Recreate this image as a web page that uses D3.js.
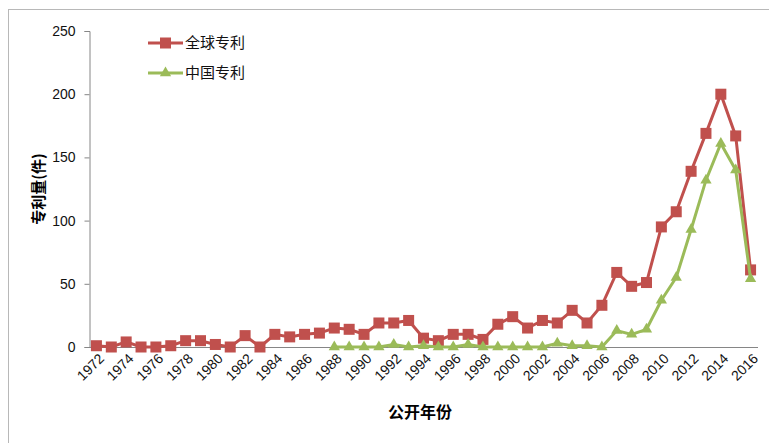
<!DOCTYPE html>
<html>
<head>
<meta charset="utf-8">
<script src="https://cdn.jsdelivr.net/npm/d3@7"></script>
<style>
  body { margin: 0; background: #fff; }
  svg { display: block; }
</style>
</head>
<body>
<svg id="chart" width="769" height="443"></svg>
<script>
// data
const years = d3.range(1972, 2017).map(String);
const globalPatents = [1, 0, 4, 0, 0, 1, 5, 5, 2, 0, 9, 0, 10, 8, 10, 11, 15, 14, 10, 19,
  19, 21, 7, 5, 10, 10, 6, 18, 24, 15, 21, 19, 29, 19, 33, 59, 48, 51, 95, 107,
  139, 169, 200, 167, 61];
const chinaYears = d3.range(1988, 2017).map(String);
const chinaPatents = [0, 0, 0, 0, 2, 0, 1, 0, 0, 2, 0, 0, 0, 0, 0, 3, 1, 1, 0, 13,
  10, 14, 37, 55, 93, 132, 161, 140, 54];
const yTicks = [0, 50, 100, 150, 200, 250];
const xLabels = years.filter((d, i) => i % 2 === 0);

const red = "#C0504D";
const green = "#9BBB59";
const axisGray = "#868686";
const numFont = "'Liberation Sans', Arial, sans-serif";
const cjkFont = "'Noto Sans CJK SC', sans-serif";

const svg = d3.select("#chart");

// outer chart border
svg.append("rect")
  .attr("x", 8.5).attr("y", 9.5)
  .attr("width", 800).attr("height", 500)
  .attr("fill", "none")
  .attr("stroke", "#b8b8b8");

const x = d3.scaleBand().domain(years).range([89, 758]);
const y = d3.scaleLinear().domain([0, 250]).range([347, 31]);
const cx = d => x(d) + x.bandwidth() / 2;

// y axis
const yAxis = svg.append("g")
  .attr("transform", "translate(89.5,0)")
  .call(d3.axisLeft(y).tickValues(yTicks).tickSize(5).tickPadding(9));
yAxis.select(".domain").attr("stroke", axisGray);
yAxis.selectAll(".tick line").attr("stroke", axisGray);
yAxis.selectAll(".tick text")
  .attr("font-family", numFont)
  .attr("font-size", 14)
  .attr("fill", "#111");

// x axis line
svg.append("line")
  .attr("x1", 89).attr("x2", 758)
  .attr("y1", y(0) + 0.5).attr("y2", y(0) + 0.5)
  .attr("stroke", axisGray);

// x tick labels, rotated
svg.append("g")
  .selectAll("text")
  .data(xLabels)
  .join("text")
  .attr("transform", d => `translate(${cx(d) + 5},${y(0) + 9}) rotate(-45)`)
  .attr("text-anchor", "end")
  .attr("dy", "0.35em")
  .attr("font-family", numFont)
  .attr("font-size", 14)
  .attr("fill", "#111")
  .text(d => d);

// axis titles
svg.append("text")
  .attr("x", 420).attr("y", 418)
  .attr("text-anchor", "middle")
  .attr("font-family", cjkFont)
  .attr("font-weight", "bold")
  .attr("font-size", 16)
  .text("公开年份");

svg.append("text")
  .attr("transform", "translate(44,189) rotate(-90)")
  .attr("text-anchor", "middle")
  .attr("font-family", cjkFont)
  .attr("font-weight", "bold")
  .attr("font-size", 15)
  .text("专利量(件)");

// series
const line = d3.line().x(d => cx(d[0])).y(d => y(d[1]));
const globalPts = years.map((yr, i) => [yr, globalPatents[i]]);
const chinaPts = chinaYears.map((yr, i) => [yr, chinaPatents[i]]);

svg.append("path")
  .datum(globalPts)
  .attr("fill", "none")
  .attr("stroke", red)
  .attr("stroke-width", 3)
  .attr("d", line);

svg.append("g")
  .selectAll("rect")
  .data(globalPts)
  .join("rect")
  .attr("x", d => cx(d[0]) - 5.5)
  .attr("y", d => y(d[1]) - 5.5)
  .attr("width", 11).attr("height", 11)
  .attr("fill", red);

svg.append("path")
  .datum(chinaPts)
  .attr("fill", "none")
  .attr("stroke", green)
  .attr("stroke-width", 3)
  .attr("d", line);

const tri = d3.symbol().type(d3.symbolTriangle).size(55);
svg.append("g")
  .selectAll("path")
  .data(chinaPts)
  .join("path")
  .attr("transform", d => `translate(${cx(d[0])},${y(d[1])})`)
  .attr("d", tri)
  .attr("fill", green);

// legend
const legend = [
  { name: "全球专利", color: red, shape: "square", y: 43 },
  { name: "中国专利", color: green, shape: "triangle", y: 73 }
];
const lg = svg.append("g")
  .selectAll("g")
  .data(legend)
  .join("g")
  .attr("transform", d => `translate(148,${d.y})`);
lg.append("line")
  .attr("x1", 0).attr("x2", 35)
  .attr("stroke", d => d.color)
  .attr("stroke-width", 3);
lg.filter(d => d.shape === "square").append("rect")
  .attr("x", 12).attr("y", -5.5)
  .attr("width", 11).attr("height", 11)
  .attr("fill", d => d.color);
lg.filter(d => d.shape === "triangle").append("path")
  .attr("transform", "translate(17.5,0)")
  .attr("d", tri)
  .attr("fill", d => d.color);
lg.append("text")
  .attr("x", 37)
  .attr("dy", "0.35em")
  .attr("font-family", cjkFont)
  .attr("font-size", 15)
  .attr("fill", "#111")
  .text(d => d.name);
</script>
</body>
</html>
